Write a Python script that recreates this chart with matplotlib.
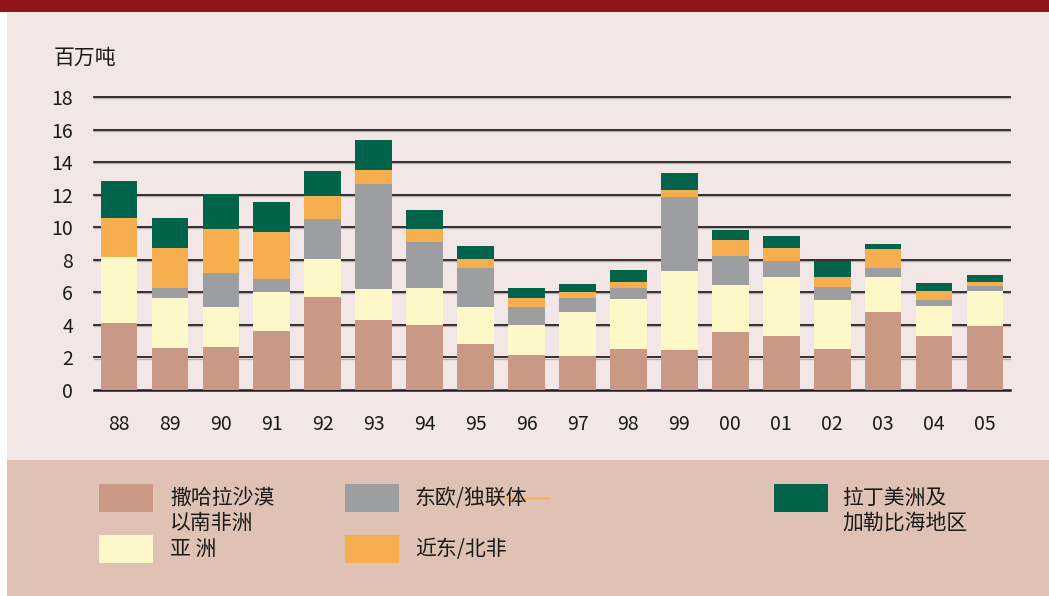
import matplotlib
matplotlib.use("Agg")
import matplotlib.pyplot as plt
from matplotlib.patches import Rectangle
import numpy as np

plt.rcParams['font.family'] = ['Noto Sans CJK SC', 'DejaVu Sans']

years = ["88", "89", "90", "91", "92", "93", "94", "95", "96", "97", "98", "99",
         "00", "01", "02", "03", "04", "05"]
ssa = [4.1, 2.58, 2.64, 3.63, 5.72, 4.31, 4.0, 2.83, 2.15, 2.09, 2.52, 2.46,
       3.57, 3.32, 2.52, 4.8, 3.32, 3.94]
asia = [4.08, 3.08, 2.46, 2.4, 2.34, 1.9, 2.27, 2.27, 1.85, 2.71, 3.08, 4.86,
        2.89, 3.63, 3.02, 2.15, 1.85, 2.15]
eeurope = [0.0, 0.61, 2.1, 0.8, 2.46, 6.46, 2.83, 2.4, 1.1, 0.86, 0.67, 4.55,
           1.78, 0.98, 0.79, 0.55, 0.37, 0.31]
neareast = [2.4, 2.46, 2.7, 2.89, 1.41, 0.86, 0.8, 0.56, 0.56, 0.37, 0.37, 0.43,
            0.99, 0.8, 0.62, 1.17, 0.55, 0.24]
latam = [2.27, 1.85, 2.15, 1.84, 1.54, 1.85, 1.17, 0.8, 0.61, 0.49, 0.74, 1.05,
         0.61, 0.74, 0.98, 0.31, 0.49, 0.43]
yticks = [0, 2, 4, 6, 8, 10, 12, 14, 16, 18]

series = [
    (ssa, "#C99985", "撒哈拉沙漠\n以南非洲"),
    (asia, "#FEF7C8", "亚 洲"),
    (eeurope, "#9D9E9F", "东欧/独联体"),
    (neareast, "#F6AE4E", "近东/北非"),
    (latam, "#00634A", "拉丁美洲及\n加勒比海地区"),
]

W, H = 1049, 596
fig = plt.figure(figsize=(W / 100, H / 100), dpi=100)
fig.patch.set_facecolor("white")

def fx(px):
    return px / W

def fy(py):
    return 1 - py / H

# backgrounds
fig.patches.append(Rectangle((fx(7), fy(460)), fx(W - 7), 448 / H, transform=fig.transFigure,
                             facecolor="#F3E6E6", edgecolor="none", zorder=-10))
fig.patches.append(Rectangle((fx(7), 0), fx(W - 7), 136 / H, transform=fig.transFigure,
                             facecolor="#E0C2B4", edgecolor="none", zorder=-10))
fig.patches.append(Rectangle((0, fy(12)), 1, 12 / H, transform=fig.transFigure,
                             facecolor="#8F1519", edgecolor="none", zorder=-10))

ax = fig.add_axes([fx(94), fy(390), fx(1010 - 94), (390 - 97) / H])
ax.set_zorder(1)
ax.set_facecolor("none")
x = np.arange(len(years))
bottom = np.zeros(len(years))
for vals, col, lab in series:
    ax.bar(x, vals, width=0.72, bottom=bottom, color=col, edgecolor="none", zorder=3)
    bottom += np.array(vals)

ytr = ax.get_yaxis_transform()
for t in yticks[1:]:
    ax.plot([0, 1], [t - 0.07, t - 0.07], color="#BBB0B0", lw=1.0, zorder=1,
            transform=ytr, clip_on=False)
    ax.plot([0, 1], [t, t], color="#231F20", lw=1.3, zorder=2,
            transform=ytr, clip_on=False)
ax.plot([0, 1], [0, 0], color="#231F20", lw=1.8, zorder=2, transform=ytr, clip_on=False)

ax.set_xlim(-0.49, len(years) - 0.51)
ax.set_ylim(0, 18)
ax.set_yticks(yticks)
ax.set_yticklabels([str(t) for t in yticks], fontsize=14, color="#1a1a1a")
ax.set_xticks(x)
ax.set_xticklabels(years, fontsize=14, color="#1a1a1a")
ax.tick_params(axis="y", length=0, pad=15)
ax.tick_params(axis="x", length=0, pad=17)
for s in ax.spines.values():
    s.set_visible(False)

fig.text(fx(54), fy(58), "百万吨", fontsize=15, va="center", ha="left", color="#1a1a1a")

# legend
leg = [
    (99, 484, 170, series[0]),
    (99, 535, 170, series[1]),
    (345, 484, 415, series[2]),
    (345, 535, 415, series[3]),
    (774, 484, 842, series[4]),
]
for px, py, tx, (vals, col, lab) in leg:
    fig.patches.append(Rectangle((fx(px), fy(py + 28)), 54 / W, 28 / H,
                                 transform=fig.transFigure, facecolor=col,
                                 edgecolor="none", zorder=2))
    lines = lab.split("\n")
    for i, ln in enumerate(lines):
        fig.text(fx(tx), fy(py + 14 + 25 * i), ln, fontsize=15, va="center", ha="left",
                 color="#1a1a1a")

fig.lines.append(plt.Line2D([fx(503), fx(548)], [fy(498), fy(498)], transform=fig.transFigure,
                            color="#F6AE4E", lw=1.0))

fig.savefig("out.png", dpi=100)
